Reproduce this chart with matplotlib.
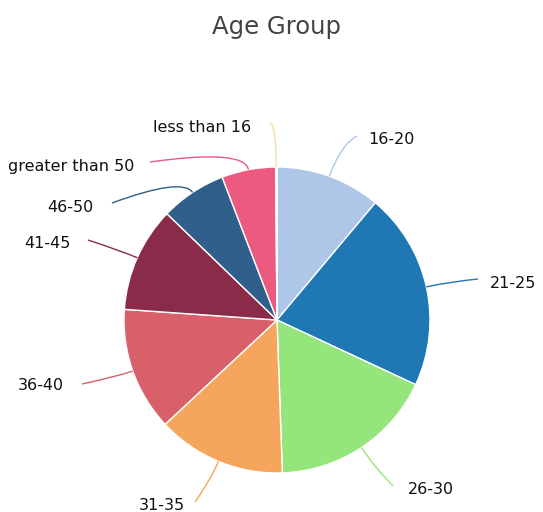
import numpy as np
from matplotlib import pyplot
from matplotlib.path import Path
from matplotlib.patches import PathPatch

# Data (slice sizes, in degrees of the circle)
groups = ['16-20', '21-25', '26-30', '31-35', '36-40',
          '41-45', '46-50', 'greater than 50', 'less than 16']
counts = [40, 75, 63, 49, 47, 40, 25, 20.5, 0.5]
colours = ['#aec7e8', '#1f77b4', '#94e57c', '#f6a55c', '#d8606a',
           '#8b2b4a', '#2f5f8a', '#ec5a80', '#f0e29a']

# Layout in pixels: elbow radius (pie radii), line end x, y, label x, y, align
label_layout = [
    (1.22, 357, 136, 368, 139, 'left'),
    (1.15, 478, 279, 490, 283, 'left'),
    (1.15, 393, 486, 408, 489, 'left'),
    (1.12, 195, 502, 185, 505, 'right'),
    (1.10, 82, 384, 64, 386, 'right'),
    (1.10, 88, 240, 71, 243, 'right'),
    (1.12, 112, 203, 94, 208, 'right'),
    (1.14, 150, 162, 134, 167, 'right'),
    (1.28, 270, 123, 251, 128, 'right'),
]

W, H = 543, 512
cx, cy, R = 277, 320, 153


def px(x, y):
    """Helper - pixel position to data units (pie radius = 1)"""
    return (x - cx) / R, (cy - y) / R


fig = pyplot.figure(figsize=(W / 100, H / 100), dpi=100)
ax = fig.add_axes([0, 0, 1, 1])

wedges, _ = ax.pie(counts, colors=colours, startangle=90, counterclock=False,
                   radius=1, center=(0, 0), frame=True,
                   wedgeprops=dict(edgecolor='white', linewidth=1))
ax.set_xlim(-cx / R, (W - cx) / R)
ax.set_ylim(-(H - cy) / R, cy / R)
ax.set_aspect('auto')
ax.axis('off')

for w, name, col, lay in zip(wedges, groups, colours, label_layout):
    mid = np.deg2rad((w.theta1 + w.theta2) / 2)
    elbow_r, ex, ey, tx, ty, ha = lay
    start = (np.cos(mid), np.sin(mid))
    elbow = (np.cos(mid) * elbow_r, np.sin(mid) * elbow_r)
    end = px(ex, ey)
    path = Path([start, elbow, end], [Path.MOVETO, Path.CURVE3, Path.CURVE3])
    ax.add_patch(PathPatch(path, facecolor='none', edgecolor=col, linewidth=1))
    lx, ly = px(tx, ty)
    ax.text(lx, ly, name, ha=ha, va='center', fontsize=11.5, color='#111111')

tx, ty = px(277, 27)
ax.text(tx, ty, 'Age Group', ha='center', va='center', fontsize=17.5,
        color='#444444')

pyplot.savefig('out.png', dpi=100)
